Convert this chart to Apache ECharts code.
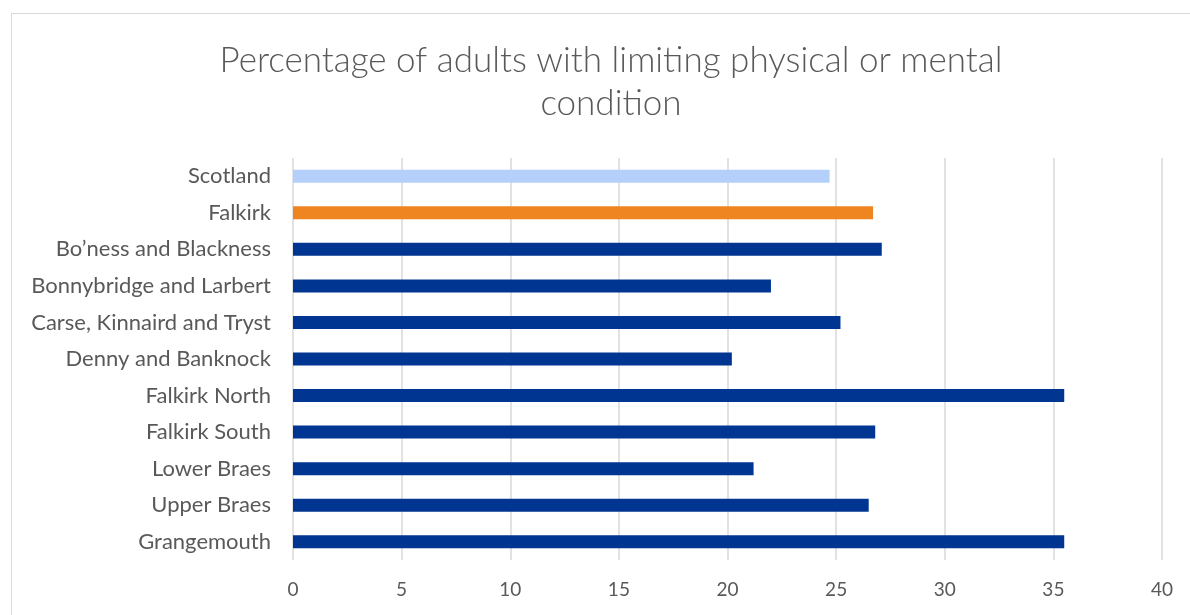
<!DOCTYPE html>
<html>
<head>
<meta charset="utf-8">
<script src="https://cdn.jsdelivr.net/npm/echarts@6/dist/echarts.min.js"></script>
<style>
  html, body { margin: 0; padding: 0; background: #fff; }
  #frame { position: absolute; left: 11px; top: 13px; width: 1300px; height: 700px; border: 1px solid #d9d9d9; }
  #chart { position: absolute; left: 0; top: 0; width: 1190px; height: 615px; }
</style>
</head>
<body>
<div id="frame"></div>
<div id="chart"></div>
<script>
// area names, top to bottom
const areas = [
  'Scotland', 'Falkirk', 'Bo\u2019ness and Blackness', 'Bonnybridge and Larbert',
  'Carse, Kinnaird and Tryst', 'Denny and Banknock', 'Falkirk North',
  'Falkirk South', 'Lower Braes', 'Upper Braes', 'Grangemouth'
];
// percentage of adults with limiting condition
const values = [24.7, 26.7, 27.1, 22.0, 25.2, 20.2, 35.5, 26.8, 21.2, 26.5, 35.5];
const barColors = ['#b4cffa', '#ef8520', '#003591', '#003591', '#003591', '#003591',
  '#003591', '#003591', '#003591', '#003591', '#003591'];

const chart = echarts.init(document.getElementById('chart'));
chart.setOption({
  animation: false,
  title: {
    text: 'Percentage of adults with limiting physical or mental\ncondition',
    left: 606,
    top: 34,
    textAlign: 'center',
    textStyle: {
      color: '#595959',
      fontFamily: 'Lato',
      fontWeight: 300,
      fontSize: 35,
      lineHeight: 43
    }
  },
  grid: {
    left: 293,
    right: 28,
    top: 158,
    bottom: 55
  },
  xAxis: {
    type: 'value',
    min: 0,
    max: 40,
    interval: 5,
    axisLine: { show: false },
    axisTick: { show: false },
    axisLabel: {
      color: '#595959',
      fontFamily: 'Lato',
      fontSize: 19,
      margin: 20
    },
    splitLine: { lineStyle: { color: '#d9d9d9', width: 1.5 } }
  },
  yAxis: {
    type: 'category',
    inverse: true,
    data: areas,
    axisLine: { show: false },
    axisTick: { show: false },
    axisLabel: {
      color: '#595959',
      fontFamily: 'Lato',
      fontSize: 22,
      margin: 22
    }
  },
  series: [{
    type: 'bar',
    barWidth: 13,
    data: values.map((v, i) => ({ value: v, itemStyle: { color: barColors[i] } }))
  }]
});
</script>
</body>
</html>
